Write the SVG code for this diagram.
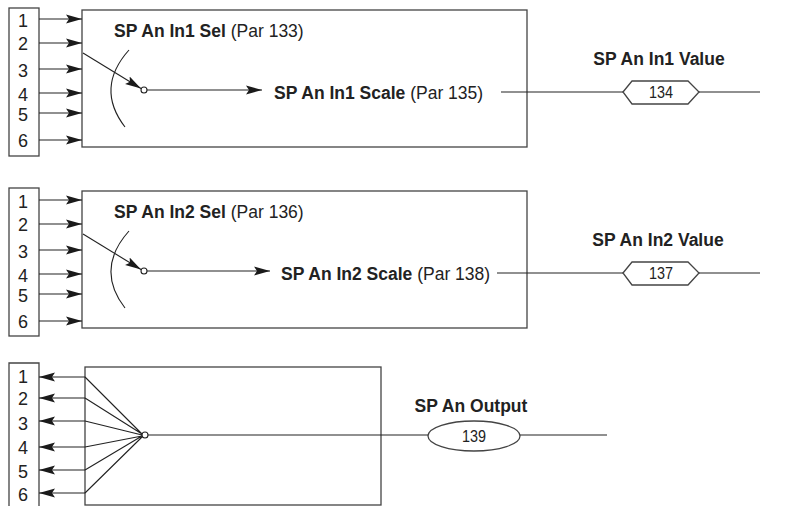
<svg xmlns="http://www.w3.org/2000/svg" width="801" height="506" viewBox="0 0 801 506">
<defs>
<marker id="ah" markerWidth="17" markerHeight="10" refX="16" refY="5" orient="auto" markerUnits="userSpaceOnUse">
<path d="M0,0.6 L16,5 L0,9.4 L3,5 Z" fill="#1a1a1a"/>
</marker>
</defs>
<style>
.box{fill:#fff;stroke:#444;stroke-width:1.3}
.ln{fill:none;stroke:#222;stroke-width:1.1}
.arr{fill:none;stroke:#222;stroke-width:1.1;marker-end:url(#ah)}
.num{font-family:"Liberation Sans",Arial,sans-serif;font-size:18px;fill:#222;text-anchor:middle}
.lbl{font-family:"Liberation Sans",Arial,sans-serif;font-size:17.5px;fill:#222}
.b{font-weight:bold}
.small{font-family:"Liberation Sans",Arial,sans-serif;font-size:16px;fill:#222;text-anchor:middle}
.dot{fill:#fff;stroke:#222;stroke-width:1.1}
</style>
<rect width="801" height="506" fill="#fff"/>

<g id="block1">
<rect class="box" x="9" y="8" width="30" height="148"/>
<text class="num" x="23" y="26.5">1</text>
<text class="num" x="23" y="50">2</text>
<text class="num" x="23" y="76.5">3</text>
<text class="num" x="23" y="100.5">4</text>
<text class="num" x="23" y="120.5">5</text>
<text class="num" x="23" y="147">6</text>
<rect class="box" x="82" y="10" width="445" height="137"/>
<text class="lbl" x="114" y="37"><tspan class="b">SP An In1 Sel</tspan> (Par 133)</text>
<path class="ln" d="M129,50 Q95,88 125,127"/>
<circle class="dot" cx="144" cy="90" r="3"/>
<text class="lbl" x="274" y="99"><tspan class="b">SP An In1 Scale</tspan> (Par 135)</text>
</g>

<g id="value1">
<text class="lbl b" x="659" y="65" text-anchor="middle">SP An In1 Value</text>
<polygon class="box" points="623,92 632,81 688,81 699,92 688,104 632,104"/>
<text class="small" x="661" y="98" textLength="24" lengthAdjust="spacingAndGlyphs">134</text>
</g>

<g id="block2">
<rect class="box" x="9" y="188" width="30" height="148"/>
<text class="num" x="23" y="207.5">1</text>
<text class="num" x="23" y="231">2</text>
<text class="num" x="23" y="257.5">3</text>
<text class="num" x="23" y="281.5">4</text>
<text class="num" x="23" y="301.5">5</text>
<text class="num" x="23" y="328">6</text>
<rect class="box" x="82" y="191" width="445" height="137"/>
<text class="lbl" x="114" y="218"><tspan class="b">SP An In2 Sel</tspan> (Par 136)</text>
<path class="ln" d="M129,231 Q95,269 125,308"/>
<circle class="dot" cx="144" cy="271" r="3"/>
<text class="lbl" x="281" y="280"><tspan class="b">SP An In2 Scale</tspan> (Par 138)</text>
</g>

<g id="value2">
<text class="lbl b" x="658" y="246" text-anchor="middle">SP An In2 Value</text>
<polygon class="box" points="623,273 632,262 688,262 699,273 688,285 632,285"/>
<text class="small" x="661" y="279" textLength="24" lengthAdjust="spacingAndGlyphs">137</text>
</g>

<g id="block3">
<path class="box" d="M9,506 V363 H39 V506"/>
<text class="num" x="23" y="382.5">1</text>
<text class="num" x="23" y="404.5">2</text>
<text class="num" x="23" y="429.5">3</text>
<text class="num" x="23" y="453.5">4</text>
<text class="num" x="23" y="477.5">5</text>
<text class="num" x="23" y="500.5">6</text>
<rect class="box" x="85" y="367" width="296" height="138"/>
<circle class="dot" cx="145" cy="435" r="3"/>
</g>

<g id="output">
<text class="lbl b" x="471" y="412" text-anchor="middle">SP An Output</text>
<ellipse class="box" cx="474" cy="436" rx="46" ry="15"/>
<text class="small" x="474" y="442" textLength="24" lengthAdjust="spacingAndGlyphs">139</text>
</g>

<g id="connectors">
<line class="arr" x1="39" y1="19" x2="82" y2="19"/>
<line class="arr" x1="39" y1="43" x2="82" y2="43"/>
<line class="arr" x1="39" y1="69" x2="82" y2="69"/>
<line class="arr" x1="39" y1="93" x2="82" y2="93"/>
<line class="arr" x1="39" y1="113" x2="82" y2="113"/>
<line class="arr" x1="39" y1="140" x2="82" y2="140"/>
<line class="arr" x1="83" y1="53" x2="141" y2="88.5"/>
<line class="arr" x1="147" y1="90" x2="262" y2="90"/>
<line class="ln" x1="501" y1="92" x2="623" y2="92"/>
<line class="ln" x1="699" y1="92" x2="760" y2="92"/>

<line class="arr" x1="39" y1="200" x2="82" y2="200"/>
<line class="arr" x1="39" y1="224" x2="82" y2="224"/>
<line class="arr" x1="39" y1="250" x2="82" y2="250"/>
<line class="arr" x1="39" y1="274" x2="82" y2="274"/>
<line class="arr" x1="39" y1="294" x2="82" y2="294"/>
<line class="arr" x1="39" y1="321" x2="82" y2="321"/>
<line class="arr" x1="83" y1="234" x2="141" y2="269.5"/>
<line class="arr" x1="147" y1="271" x2="270" y2="271"/>
<line class="ln" x1="497" y1="273" x2="623" y2="273"/>
<line class="ln" x1="699" y1="273" x2="760" y2="273"/>

<line class="arr" x1="85" y1="377" x2="39" y2="377"/>
<line class="arr" x1="85" y1="398" x2="39" y2="398"/>
<line class="arr" x1="85" y1="421" x2="39" y2="421"/>
<line class="arr" x1="85" y1="447" x2="39" y2="447"/>
<line class="arr" x1="85" y1="470" x2="39" y2="470"/>
<line class="arr" x1="85" y1="493" x2="39" y2="493"/>
<path class="ln" d="M85,377 L142,434 M85,398 L142,434 M85,421 L142,435 M85,447 L142,436 M85,470 L142,436 M85,493 L142,437"/>
<line class="ln" x1="148" y1="435" x2="428" y2="435"/>
<line class="ln" x1="520" y1="435" x2="607" y2="435"/>
</g>
</svg>
